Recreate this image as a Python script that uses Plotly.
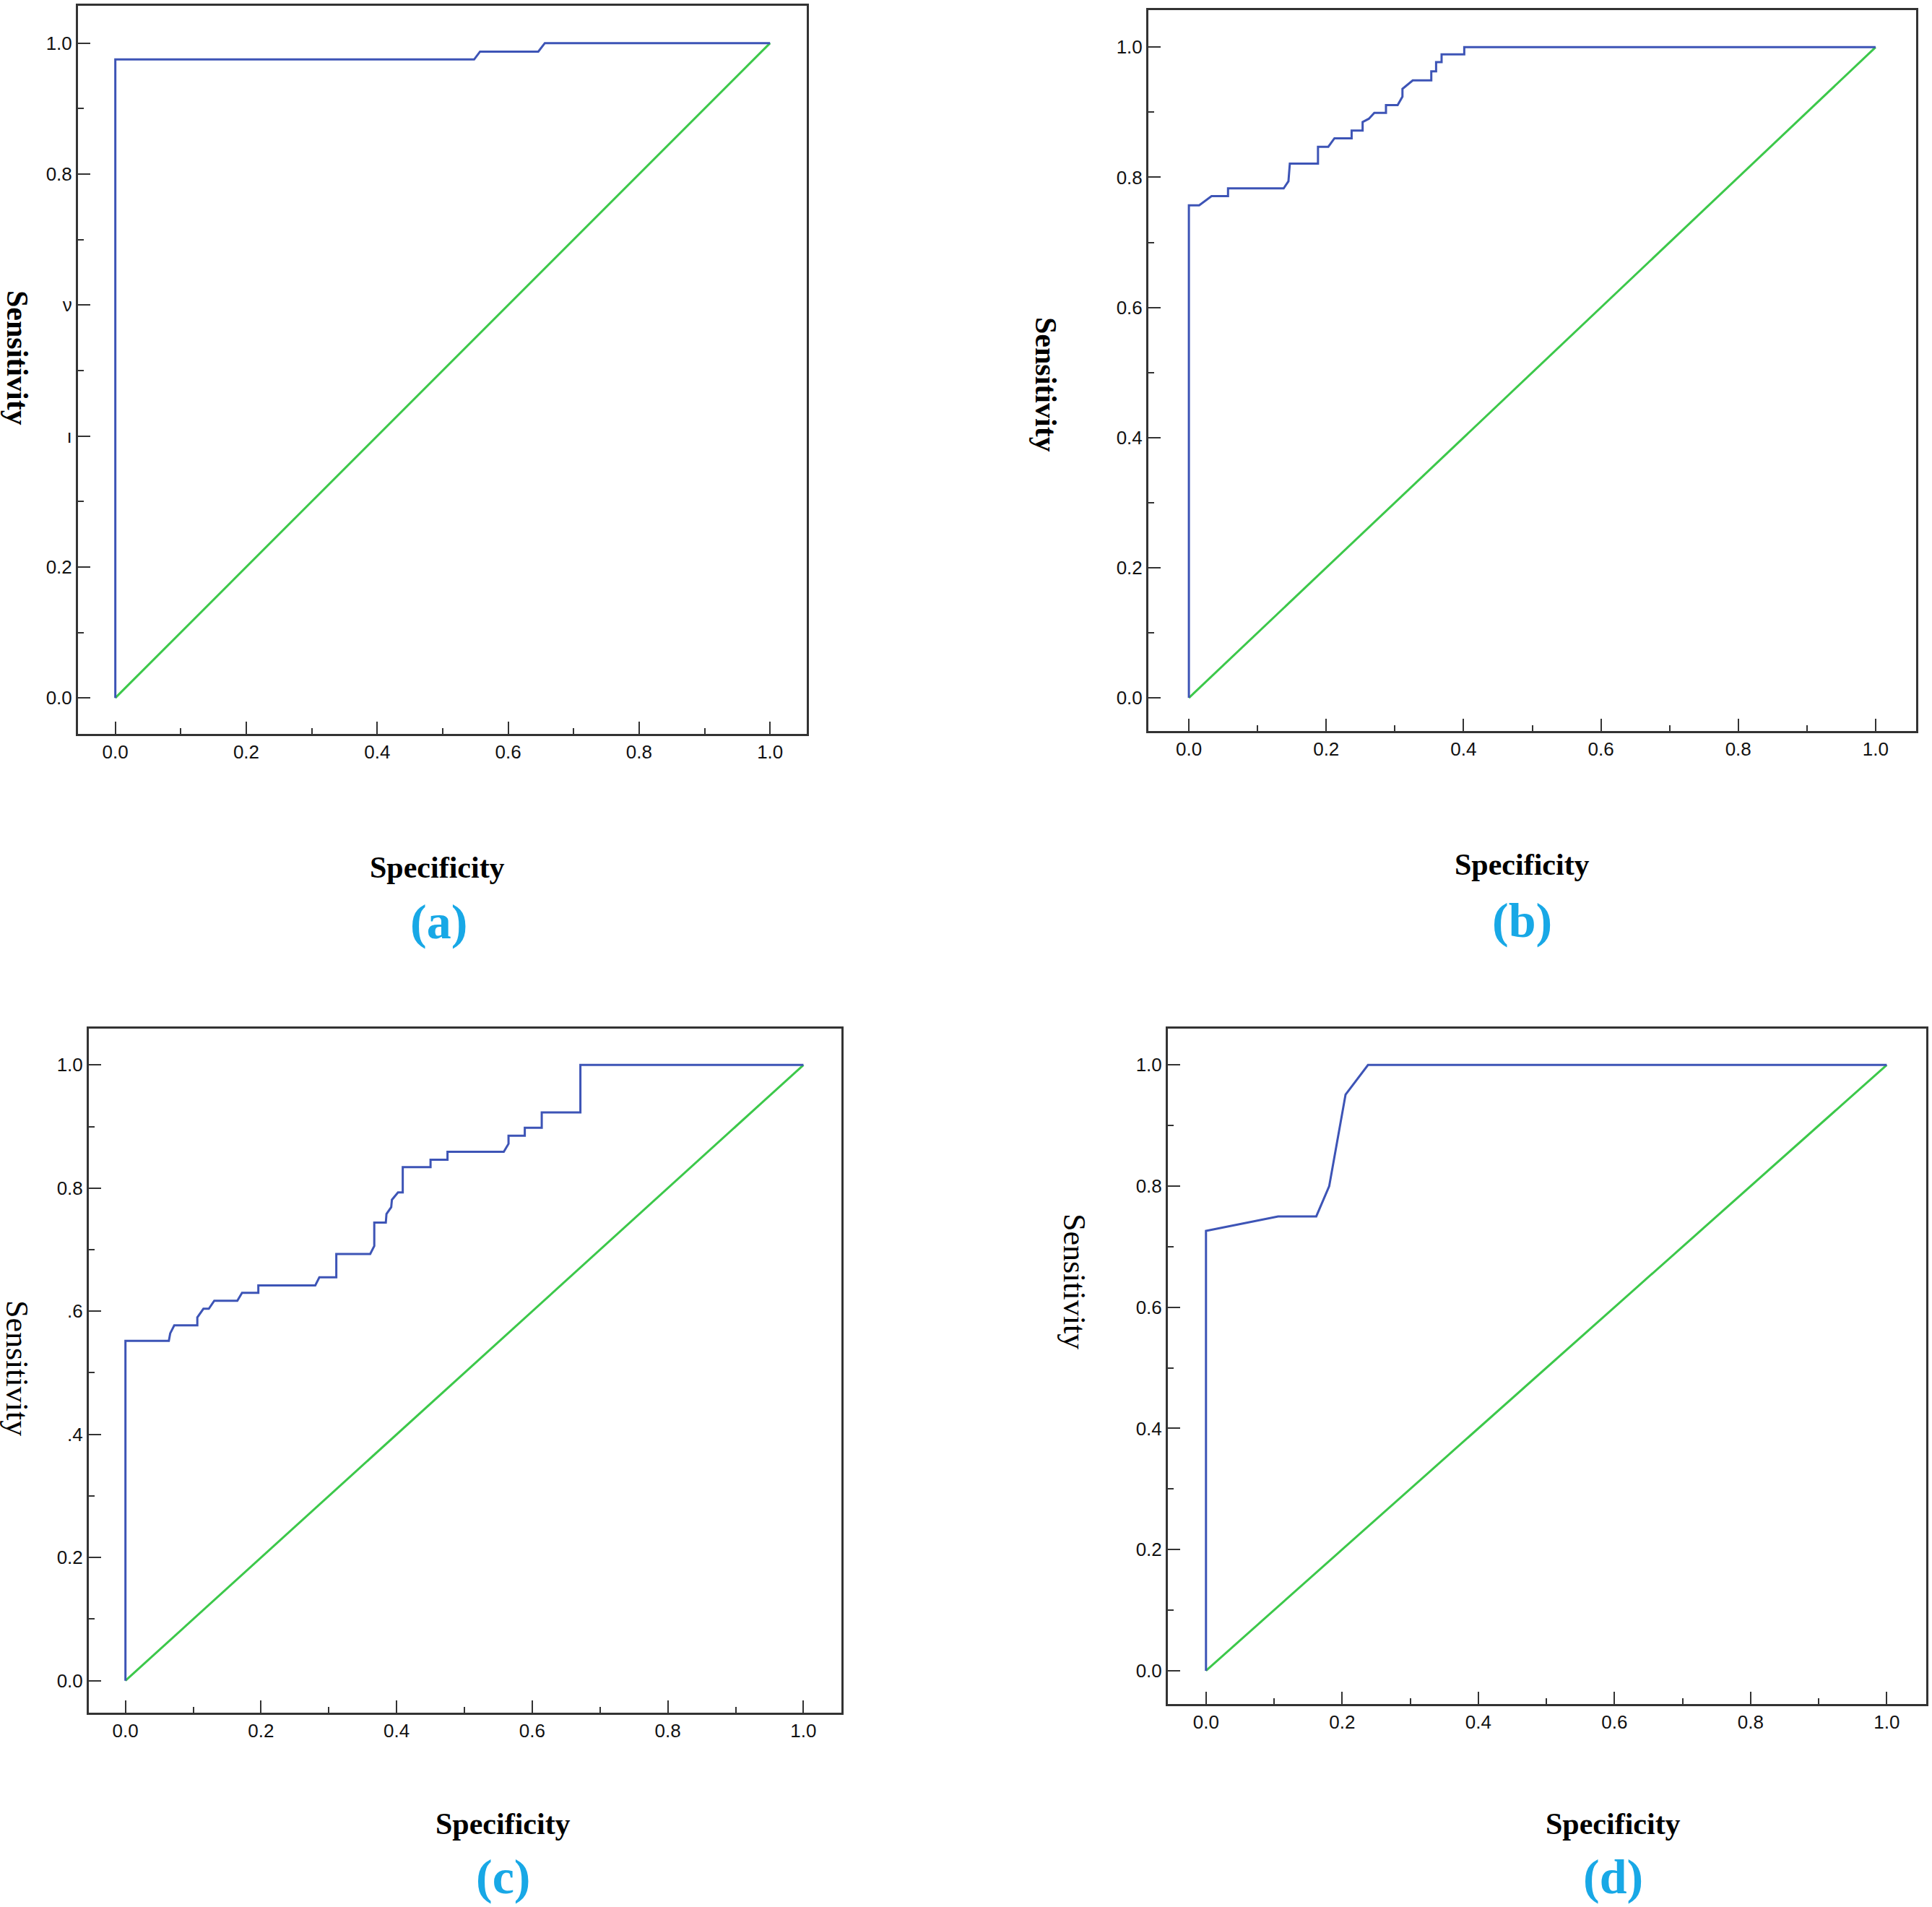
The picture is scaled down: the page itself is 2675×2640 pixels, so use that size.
import plotly.graph_objects as go

# ROC curves (1 - specificity on x, sensitivity on y)
roc_a_x = [0, 0, 0.548, 0.557, 0.646, 0.656, 1.0]
roc_a_y = [0, 0.975, 0.975, 0.987, 0.987, 1.0, 1.0]

roc_b_x = [0, 0, 0.015, 0.033, 0.057, 0.057, 0.138, 0.145, 0.147, 0.188, 0.188, 0.203, 0.212,
           0.237, 0.237, 0.253, 0.253, 0.262, 0.270, 0.287, 0.287, 0.304, 0.311, 0.311, 0.326,
           0.353, 0.353, 0.360, 0.360, 0.368, 0.368, 0.401, 0.401, 1.0]
roc_b_y = [0, 0.757, 0.757, 0.771, 0.771, 0.783, 0.783, 0.794, 0.821, 0.821, 0.847, 0.847, 0.860,
           0.860, 0.872, 0.872, 0.885, 0.890, 0.899, 0.899, 0.911, 0.911, 0.924, 0.936, 0.949,
           0.949, 0.963, 0.963, 0.977, 0.977, 0.989, 0.989, 1.0, 1.0]

roc_c_x = [0, 0, 0.064, 0.066, 0.072, 0.106, 0.106, 0.115, 0.123, 0.131, 0.165, 0.172, 0.196,
           0.196, 0.280, 0.286, 0.311, 0.311, 0.361, 0.367, 0.367, 0.384, 0.385, 0.392, 0.393,
           0.402, 0.409, 0.409, 0.450, 0.450, 0.475, 0.475, 0.558, 0.565, 0.565, 0.589, 0.589,
           0.614, 0.614, 0.671, 0.671, 1.0]
roc_c_y = [0, 0.552, 0.552, 0.564, 0.577, 0.577, 0.590, 0.604, 0.604, 0.617, 0.617, 0.630, 0.630,
           0.642, 0.642, 0.655, 0.655, 0.693, 0.693, 0.706, 0.744, 0.744, 0.758, 0.769, 0.781,
           0.793, 0.793, 0.834, 0.834, 0.846, 0.846, 0.859, 0.859, 0.872, 0.885, 0.885, 0.898,
           0.898, 0.923, 0.923, 1.0, 1.0]

roc_d_x = [0, 0, 0.106, 0.162, 0.181, 0.205, 0.238, 1.0]
roc_d_y = [0, 0.726, 0.750, 0.750, 0.800, 0.951, 1.0, 1.0]

ref_line = [0, 1]

panel_tags = ["(a)", "(b)", "(c)", "(d)"]
x_title = "Specificity"
y_title = "Sensitivity"
ytick_vals = [0, 0.2, 0.4, 0.6, 0.8, 1.0]
ytick_text = [
    ["0.0", "0.2", "ı", "ν", "0.8", "1.0"],
    ["0.0", "0.2", "0.4", "0.6", "0.8", "1.0"],
    ["0.0", "0.2", ".4", ".6", "0.8", "1.0"],
    ["0.0", "0.2", "0.4", "0.6", "0.8", "1.0"],
]
xtick_vals = [0, 0.2, 0.4, 0.6, 0.8, 1.0]
xtick_text = ["0.0", "0.2", "0.4", "0.6", "0.8", "1.0"]

W, H = 2675, 2640
BLUE = "#3d54b6"
GREEN = "#3cc84a"
CYAN = "#18a8e6"

# panel geometry in pixels: frame left, right, top, bottom ; axis ranges
panels = [
    dict(px=(108, 1117, 8, 1016), xr=(-0.057, 1.056), yr=(-0.055, 1.057),
         ytitle=(24, 495, True), xtitle=(605, 1201), tag=(607, 1276)),
    dict(px=(1590, 2653, 14, 1012), xr=(-0.059, 1.059), yr=(-0.051, 1.057),
         ytitle=(1448, 532, True), xtitle=(2107, 1197), tag=(2107, 1274)),
    dict(px=(123, 1165, 1424, 2371), xr=(-0.054, 1.056), yr=(-0.052, 1.059),
         ytitle=(24, 1894, False), xtitle=(696, 2525), tag=(696, 2598)),
    dict(px=(1617, 2667, 1424, 2359), xr=(-0.056, 1.058), yr=(-0.055, 1.060),
         ytitle=(1488, 1774, False), xtitle=(2233, 2525), tag=(2233, 2598)),
]
curves = [(roc_a_x, roc_a_y), (roc_b_x, roc_b_y), (roc_c_x, roc_c_y), (roc_d_x, roc_d_y)]

fig = go.Figure()
annotations = []
layout_axes = {}

for i, (p, (cx, cy)) in enumerate(zip(panels, curves)):
    n = "" if i == 0 else str(i + 1)
    fig.add_trace(go.Scatter(x=ref_line, y=ref_line, mode="lines",
                             line=dict(color=GREEN, width=3),
                             xaxis="x" + n, yaxis="y" + n, showlegend=False))
    fig.add_trace(go.Scatter(x=cx, y=cy, mode="lines",
                             line=dict(color=BLUE, width=3),
                             xaxis="x" + n, yaxis="y" + n, showlegend=False))
    l, r, t, b = p["px"]
    common = dict(showgrid=False, zeroline=False, showline=True, mirror=True,
                  linecolor="#333333", linewidth=3, ticks="inside", ticklen=17,
                  tickwidth=2, tickcolor="#333333",
                  tickfont=dict(family="Liberation Sans", size=26, color="#111111"),
                  minor=dict(dtick=0.1, ticks="inside", ticklen=8, tickwidth=2,
                             tickcolor="#333333"))
    layout_axes["xaxis" + n] = dict(common, domain=[l / W, r / W], range=list(p["xr"]),
                                    tickvals=xtick_vals, ticktext=xtick_text,
                                    anchor="y" + n)
    layout_axes["yaxis" + n] = dict(common, domain=[1 - b / H, 1 - t / H], range=list(p["yr"]),
                                    tickvals=ytick_vals, ticktext=ytick_text[i],
                                    anchor="x" + n)

    yx, yy, bold = p["ytitle"]
    txt = "<b>%s</b>" % y_title if bold else y_title
    annotations.append(dict(x=yx / W, y=1 - yy / H, xref="paper", yref="paper",
                            text=txt, textangle=90, showarrow=False,
                            font=dict(family="Liberation Serif", size=42 if bold else 44,
                                      color="#000000"),
                            xanchor="center", yanchor="middle"))
    xx, xy = p["xtitle"]
    annotations.append(dict(x=xx / W, y=1 - xy / H, xref="paper", yref="paper",
                            text="<b>%s</b>" % x_title, showarrow=False,
                            font=dict(family="Liberation Serif", size=42, color="#000000"),
                            xanchor="center", yanchor="middle"))
    tx, ty = p["tag"]
    annotations.append(dict(x=tx / W, y=1 - ty / H, xref="paper", yref="paper",
                            text="<b>%s</b>" % panel_tags[i], showarrow=False,
                            font=dict(family="Liberation Serif", size=68, color=CYAN),
                            xanchor="center", yanchor="middle"))

fig.update_layout(width=W, height=H, margin=dict(l=0, r=0, t=0, b=0),
                  paper_bgcolor="white", plot_bgcolor="white",
                  annotations=annotations, **layout_axes)

# drop the browser's default body margin so the figure sits flush at the top-left
fig.write_html("out.html", config={"displayModeBar": False},
               post_script="document.body.style.margin='0';")
